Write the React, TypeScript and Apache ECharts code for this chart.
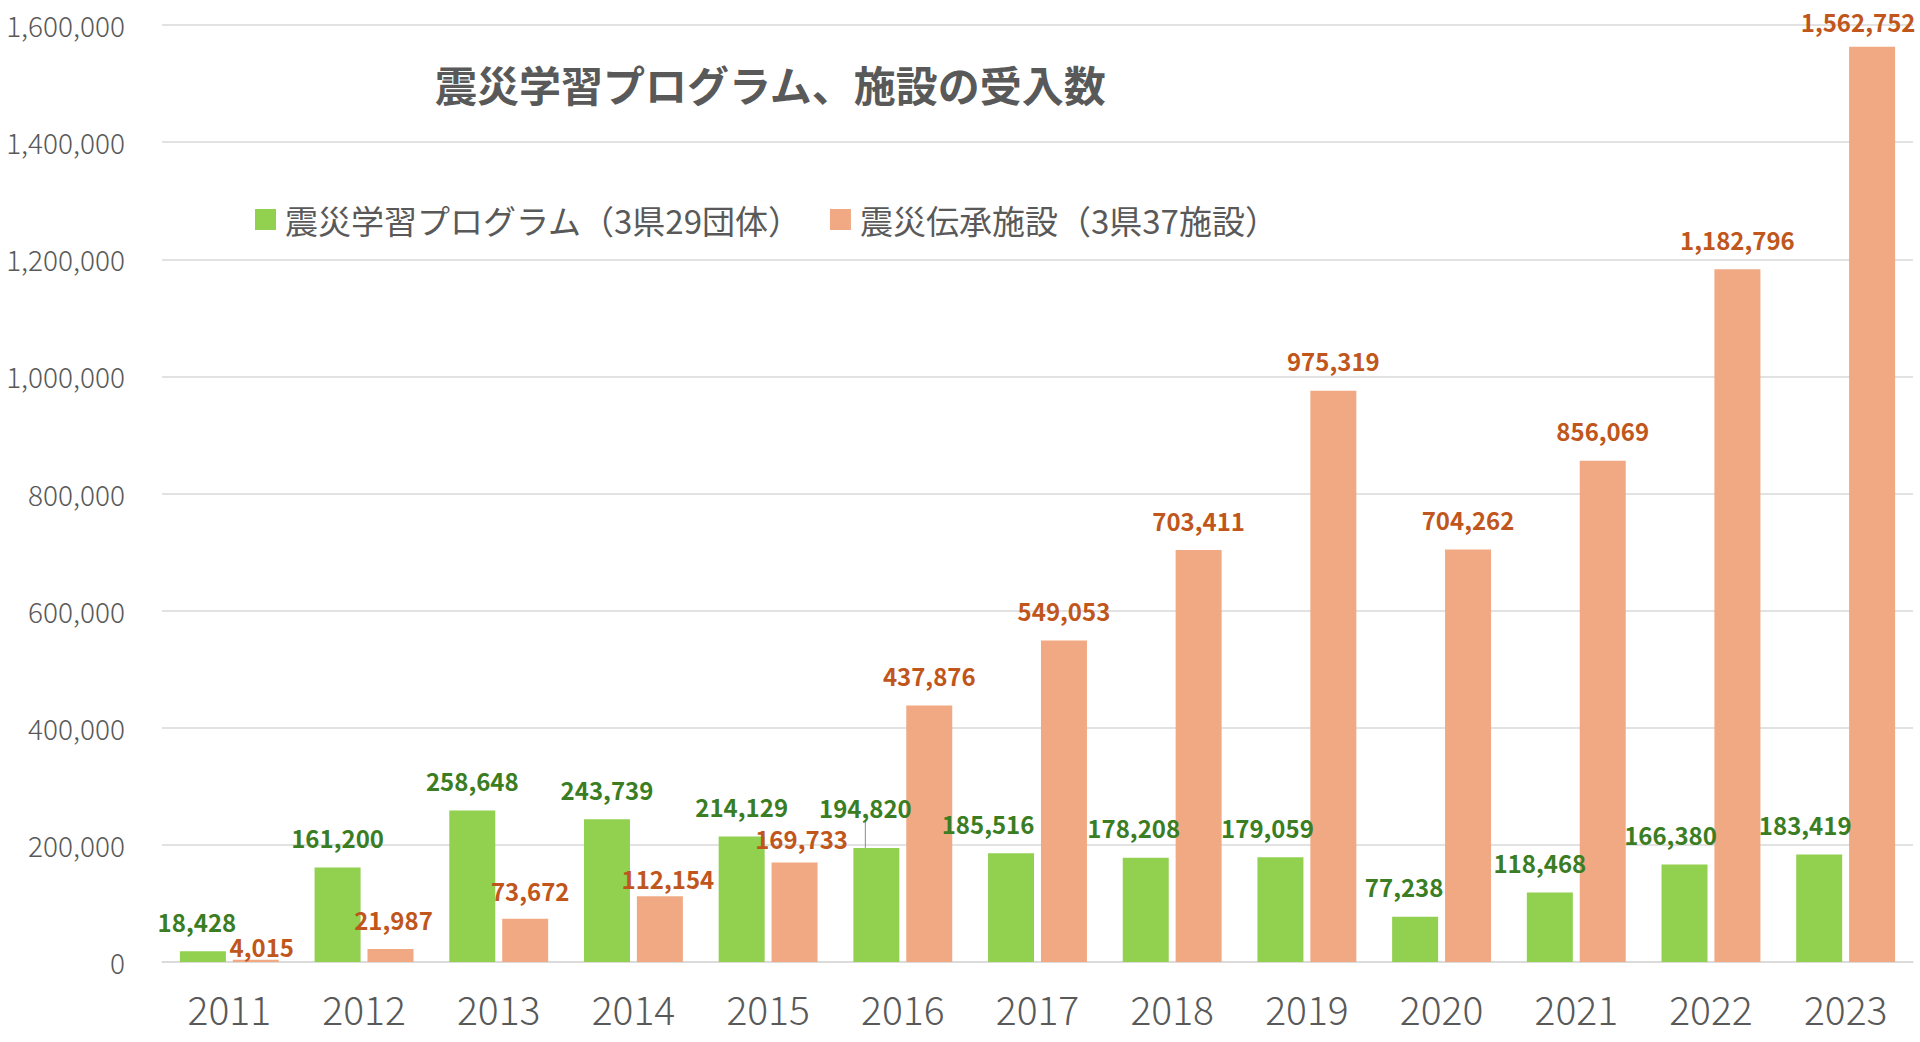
import React, { useEffect, useRef } from "react";
import * as echarts from "echarts";

const years = ["2011", "2012", "2013", "2014", "2015", "2016", "2017", "2018", "2019", "2020", "2021", "2022", "2023"];
const programVisitors = [18428, 161200, 258648, 243739, 214129, 194820, 185516, 178208, 179059, 77238, 118468, 166380, 183419];
const facilityVisitors = [4015, 21987, 73672, 112154, 169733, 437876, 549053, 703411, 975319, 704262, 856069, 1182796, 1562752];
const programName = "震災学習プログラム（3県29団体）";
const facilityName = "震災伝承施設（3県37施設）";
const titleText = "震災学習プログラム、施設の受入数";
const yTicks = { min: 0, max: 1600000, interval: 200000 };

// label nudges (px) relative to the default "above the bar" placement
const programLabelShift: [number, number][] = [
  [-6, 0], [0, 0], [0, 0], [0, 0], [0, 0], [-11, -10], [-23, 0], [-12, 0], [-13, 0], [-11, 0], [-10, 0], [-14, 0], [-14, 0],
];
const facilityLabelShift: [number, number][] = [
  [6, 17], [3, 0], [5, 2], [8, 12], [7, 6], [0, 0], [0, 0], [0, 0], [0, 0], [0, 0], [0, 0], [0, 0], [-14, 5],
];

const FONT = '"Noto Sans CJK JP", "Noto Sans", sans-serif';
const GREY = "#595959";

export default function App() {
  const ref = useRef<HTMLDivElement>(null);

  useEffect(() => {
    document.body.style.margin = "0";
    if (!ref.current) return;
    const chart = echarts.init(ref.current, undefined, { renderer: "svg" });
    const fmt = (v: number) => Number(v).toLocaleString("en-US");

    const labelBase = {
      show: true,
      position: "top" as const,
      distance: 18,
      fontFamily: FONT,
      fontSize: 24,
      fontWeight: "bold" as const,
      formatter: (p: any) => fmt(p.value),
    };

    chart.setOption({
      animation: false,
      textStyle: { fontFamily: FONT },
      title: {
        text: titleText,
        left: 430,
        top: 57,
        textStyle: { fontFamily: FONT, fontSize: 42, fontWeight: "bold", color: GREY },
      },
      legend: {
        left: 250,
        top: 198,
        icon: "rect",
        itemWidth: 21,
        itemHeight: 21,
        itemGap: 28,
        textStyle: { fontFamily: FONT, fontSize: 33, color: GREY, padding: [0, 0, 0, 4] },
        data: [programName, facilityName],
      },
      grid: { left: 162, right: 7, top: 25, bottom: 80, containLabel: false },
      xAxis: {
        type: "category",
        data: years,
        axisLine: { show: true, lineStyle: { color: "#D9D9D9", width: 1.5 } },
        axisTick: { show: false },
        axisLabel: { fontFamily: FONT, fontSize: 39, fontWeight: 300, color: GREY, margin: 26 },
      },
      yAxis: {
        type: "value",
        min: yTicks.min,
        max: yTicks.max,
        interval: yTicks.interval,
        axisLine: { show: false },
        axisTick: { show: false },
        splitLine: { lineStyle: { color: "#D9D9D9", width: 1.5 } },
        axisLabel: { fontFamily: FONT, fontSize: 28, fontWeight: 300, color: GREY, margin: 37, formatter: fmt },
      },
      series: [
        {
          name: programName,
          type: "bar",
          barWidth: 46,
          barGap: "15%",
          itemStyle: { color: "#92D050" },
          label: { ...labelBase, color: "#3A7D22" },
          labelLayout: (p: any) => {
            const s = programLabelShift[p.dataIndex] || [0, 0];
            return { dx: s[0], dy: s[1] };
          },
          labelLine: { show: false },
          data: programVisitors.map((v, i) =>
            i === 5
              ? { value: v, labelLine: { show: true, length2: 0, lineStyle: { color: "#8C8C8C", width: 1 } } }
              : v
          ),
        },
        {
          name: facilityName,
          type: "bar",
          barWidth: 46,
          barGap: "15%",
          itemStyle: { color: "#F1A983" },
          label: { ...labelBase, color: "#C0561B" },
          labelLayout: (p: any) => {
            const s = facilityLabelShift[p.dataIndex] || [0, 0];
            return { dx: s[0], dy: s[1] };
          },
          labelLine: { show: false },
          data: facilityVisitors,
        },
      ],
    });

    return () => chart.dispose();
  }, []);

  return <div ref={ref} style={{ width: 1920, height: 1042 }} />;
}
